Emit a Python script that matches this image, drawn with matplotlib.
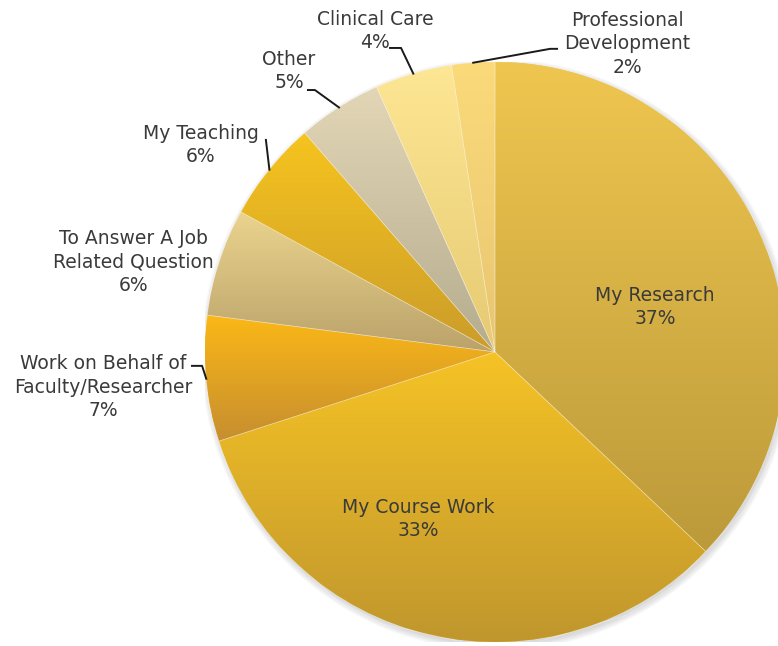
import numpy as np
import matplotlib.pyplot as plt
from matplotlib.colors import LinearSegmentedColormap

categories = ["My Research", "My Course Work", "Work on Behalf of\nFaculty/Researcher",
              "To Answer A Job\nRelated Question", "My Teaching", "Other",
              "Clinical Care", "Professional\nDevelopment"]
values = [37.1, 33.0, 7.0, 6.0, 5.6, 4.7, 4.3, 2.4]

top_colors = ["#EFC64F", "#F6C325", "#FBB816", "#EBD48E", "#F6C41E", "#E2D6B6", "#FDE694", "#FBDA7A"]
bottom_colors = ["#BC9A3A", "#BF962E", "#C68E30", "#BAA26A", "#CB9C2A", "#B5AC8E", "#E6CA72", "#E8C672"]

# label centres and leader elbows in data units (radius = 1)
label_xy = [(0.552, 0.155), (-0.266, -0.576), (-1.352, -0.121), (-1.248, 0.310),
            (-1.014, 0.714), (-0.710, 0.969), (-0.414, 1.107), (0.455, 1.062)]
leaders = [None, None,
           [(-1.010, -0.048), (-1.045, -0.048)],
           None,
           [(-0.790, 0.731)],
           [(-0.621, 0.903), (-0.645, 0.903)],
           [(-0.324, 1.048), (-0.362, 1.048)],
           [(0.190, 1.045), (0.214, 1.045)]]

fig = plt.figure(figsize=(7.78, 6.46), dpi=100)
ax = fig.add_axes([0.2635, 0.0062, 0.7455, 0.898])

# soft shadow
for k in range(6):
    ax.add_patch(plt.Circle((0.006, -0.01), 1.0 + 0.004 * k, color="#808080",
                            alpha=0.05, lw=0, zorder=0))

wedges, _ = ax.pie(values, startangle=90, counterclock=False, radius=1,
                   colors=top_colors, wedgeprops=dict(linewidth=0))

grad = np.linspace(0, 1, 256).reshape(-1, 1)
for w, c0, c1 in zip(wedges, top_colors, bottom_colors):
    v = w.get_path().vertices
    ext = [v[:, 0].min(), v[:, 0].max(), v[:, 1].min(), v[:, 1].max()]
    cmap = LinearSegmentedColormap.from_list("g", [c0, c1])
    im = ax.imshow(grad, cmap=cmap, extent=ext, aspect="auto", origin="upper",
                   zorder=w.get_zorder() + 0.1)
    im.set_clip_path(w)
    ax.add_patch(plt.Polygon(v, closed=True, fill=False, edgecolor=(1, 1, 1, 0.35),
                             lw=0.5, zorder=w.get_zorder() + 0.2))

for w, cat, val, xy, lead in zip(wedges, categories, values, label_xy, leaders):
    ax.text(xy[0], xy[1], f"{cat}\n{round(val)}%", ha="center", va="center",
            fontsize=13.5, color="#3a3a3a", linespacing=1.3, zorder=5)
    if lead is not None:
        mid = np.deg2rad((w.theta1 + w.theta2) / 2)
        pts = [(np.cos(mid), np.sin(mid))] + lead
        xs, ys = zip(*pts)
        ax.plot(xs, ys, color="#1a1a1a", lw=1.4, clip_on=False, zorder=5)

ax.set_xlim(-1, 1)
ax.set_ylim(-1, 1)
ax.axis("off")

fig.savefig("out.png", dpi=100)
